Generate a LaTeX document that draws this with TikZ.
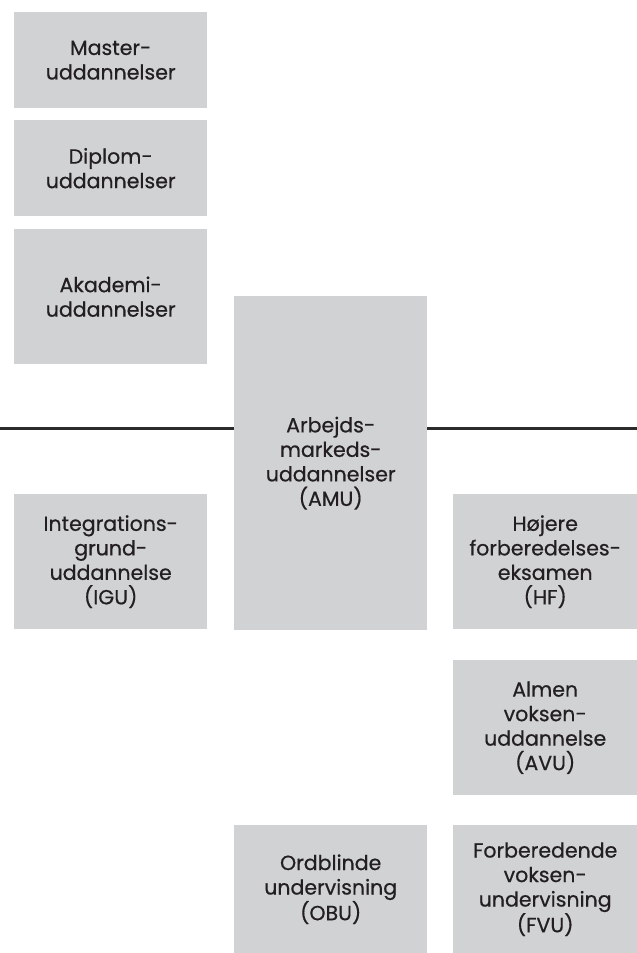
\documentclass[tikz,border=0pt]{standalone}
\usepackage{fontspec}
\setmainfont{Poppins}[FakeBold=0.6]
\definecolor{boxgray}{HTML}{D1D2D4}
\definecolor{inkdark}{HTML}{231F20}
\definecolor{linedark}{HTML}{2B2B2B}
\begin{document}
\begin{tikzpicture}[x=1pt,y=-1pt,
  edubox/.style={fill=boxgray, draw=none, inner sep=0pt, anchor=north west,
    align=center, text=inkdark, font=\fontsize{20.5}{24.5}\selectfont},
  divider/.style={draw=linedark, line width=2.4pt}]
\useasboundingbox (0,0) rectangle (637,953);
\node[edubox, minimum width=193pt, minimum height=96pt] (master) at (14,12) {Master-\\uddannelser};
\node[edubox, minimum width=193pt, minimum height=96pt] (diplom) at (14,120) {Diplom-\\uddannelser};
\node[edubox, minimum width=193pt, minimum height=135pt] (akademi) at (14,229) {Akademi-\\uddannelser};
\node[edubox, minimum width=193pt, minimum height=334pt] (amu) at (234,296) {Arbejds-\\markeds-\\uddannelser\\(AMU)};
\node[edubox, minimum width=193pt, minimum height=135pt] (igu) at (14,494) {Integrations-\\grund-\\uddannelse\\(IGU)};
\node[edubox, minimum width=184pt, minimum height=135pt] (hf) at (453,494) {Højere\\forberedelses-\\eksamen\\(HF)};
\node[edubox, minimum width=184pt, minimum height=135pt] (avu) at (453,660) {Almen\\voksen-\\uddannelse\\(AVU)};
\node[edubox, minimum width=193pt, minimum height=128pt] (obu) at (234,825) {Ordblinde\\undervisning\\(OBU)};
\node[edubox, minimum width=184pt, minimum height=128pt] (fvu) at (453,825) {Forberedende\\voksen-\\undervisning\\(FVU)};
\coordinate (lineL) at (0,428.5);
\coordinate (lineR) at (637,428.5);
\draw[divider] (lineL) -- (lineL -| amu.west);
\draw[divider] (lineR -| amu.east) -- (lineR);
\end{tikzpicture}
\end{document}
